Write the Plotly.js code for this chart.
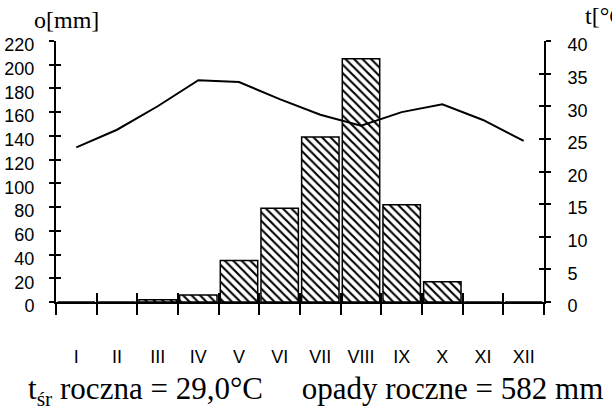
<!DOCTYPE html>
<html>
<head>
<meta charset="utf-8">
<script src="https://cdn.plot.ly/plotly-3.0.1.min.js"></script>
<style>html,body{margin:0;padding:0;background:#fff;overflow:hidden}#chart{width:612px;height:410px}</style>
</head>
<body>
<div id="chart"></div>
<script>
const months = ['I','II','III','IV','V','VI','VII','VIII','IX','X','XI','XII'];
const precipitation = [0, 0, 2, 6, 35, 79, 139, 205, 82, 17, 0, 0];
const temperature = [23.7, 26.4, 30.0, 34.0, 33.7, 31.1, 28.7, 27.0, 29.1, 30.3, 27.9, 24.7];
const precipTicks = [0,20,40,60,80,100,120,140,160,180,200,220];
const tempTicks = [0,5,10,15,20,25,30,35,40];
const leftTitle = 'o[mm]';
const rightTitle = 't[°C]';
const footer = 't<sub>śr</sub> roczna = 29,0°C\u00A0\u00A0\u00A0\u00A0\u00A0opady roczne = 582 mm';

const numFont = {family: 'Liberation Sans, Arial, sans-serif', size: 18, color: '#000'};
const serif = 'Liberation Serif, Times New Roman, serif';

const traces = [
  {type: 'bar', x: months, y: precipitation, xaxis: 'x', yaxis: 'y', width: 0.92,
   marker: {color: '#fff', line: {color: '#000', width: 1.5},
            pattern: {shape: '\\', fgcolor: '#000', bgcolor: '#fff', size: 6, solidity: 0.35}},
   hoverinfo: 'skip'},
  {type: 'scatter', mode: 'lines', x: months, y: temperature, xaxis: 'x', yaxis: 'y2',
   line: {color: '#000', width: 2}, hoverinfo: 'skip'},
  {type: 'scatter', mode: 'lines', x: months, y: months.map(() => null), xaxis: 'x2', yaxis: 'y3', hoverinfo: 'skip'},
  {type: 'scatter', mode: 'lines', x: months, y: months.map(() => null), xaxis: 'x2', yaxis: 'y4', hoverinfo: 'skip'}
];

const common = {showgrid: false, zeroline: false, fixedrange: true};
const layout = {
  width: 612, height: 410,
  margin: {l: 56, r: 68, t: 41, b: 108},
  paper_bgcolor: '#fff', plot_bgcolor: 'rgba(0,0,0,0)',
  showlegend: false, bargap: 0.08,
  xaxis: Object.assign({}, common, {type: 'category', range: [-0.5, 11.5], tickson: 'boundaries',
    ticks: 'outside', ticklen: 11, tickwidth: 2, tickcolor: '#000',
    showline: true, linecolor: '#000', linewidth: 2, tickfont: numFont, ticklabelstandoff: 37, anchor: 'y'}),
  xaxis2: Object.assign({}, common, {type: 'category', range: [-0.5, 11.5], tickson: 'boundaries', overlaying: 'x',
    ticks: 'inside', ticklen: 9, tickwidth: 2, tickcolor: '#000', showticklabels: false, showline: false, anchor: 'y'}),
  yaxis: Object.assign({}, common, {range: [0, 220], tickvals: precipTicks, ticks: 'outside', ticklen: 5, tickwidth: 2,
    tickcolor: '#000', showline: true, linecolor: '#000', linewidth: 2, tickfont: numFont, ticklabelstandoff: 11,
    ticklabelshift: 4}),
  yaxis2: Object.assign({}, common, {range: [0, 40], tickvals: tempTicks, overlaying: 'y', side: 'right', anchor: 'x',
    ticks: 'outside', ticklen: 5, tickwidth: 2, tickcolor: '#000', showline: true, linecolor: '#000', linewidth: 2,
    tickfont: numFont, ticklabelstandoff: 13, ticklabelshift: 4}),
  yaxis3: Object.assign({}, common, {range: [0, 220], tickvals: precipTicks, overlaying: 'y', side: 'left', anchor: 'x2',
    ticks: 'inside', ticklen: 5, tickwidth: 2, tickcolor: '#000', showticklabels: false, showline: false}),
  yaxis4: Object.assign({}, common, {range: [0, 40], tickvals: tempTicks, overlaying: 'y', side: 'right', anchor: 'x2',
    ticks: 'inside', ticklen: 5, tickwidth: 2, tickcolor: '#000', showticklabels: false, showline: false}),
  annotations: [
    {text: leftTitle, xref: 'paper', yref: 'paper', x: 0, y: 1, xshift: -24, yshift: 36, xanchor: 'left', yanchor: 'top',
     showarrow: false, font: {family: serif, size: 24, color: '#000'}},
    {text: rightTitle, xref: 'paper', yref: 'paper', x: 1, y: 1, xshift: 39, yshift: 40, xanchor: 'left', yanchor: 'top',
     showarrow: false, font: {family: serif, size: 24, color: '#000'}},
    {text: footer, xref: 'paper', yref: 'paper', x: 0.5, y: 0, xshift: 15, yshift: -67, xanchor: 'center', yanchor: 'top',
     showarrow: false, font: {family: serif, size: 31, color: '#000'}}
  ]
};

Plotly.newPlot('chart', traces, layout, {staticPlot: true, displayModeBar: false});
</script>
</body>
</html>
